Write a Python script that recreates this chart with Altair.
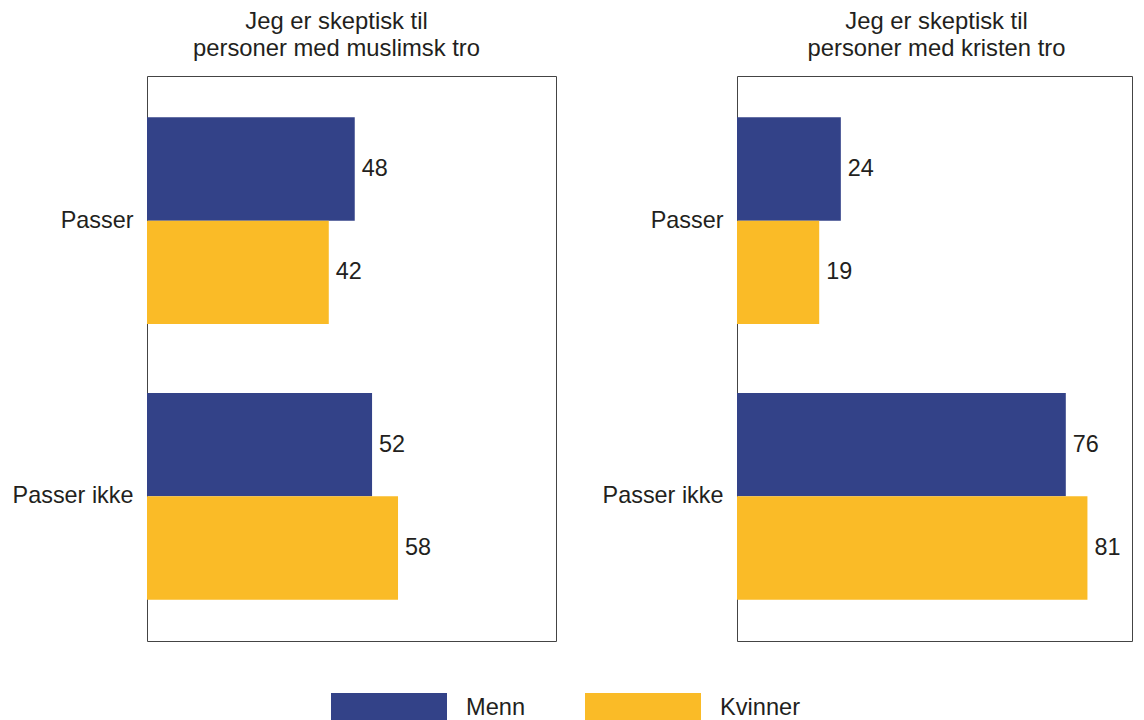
import altair as alt
import pandas as pd

categories = ["Passer", "Passer ikke"]
genders = ["Menn", "Kvinner"]
colors = ["#334288", "#FABB27"]

muslim_menn = [48, 52]
muslim_kvinner = [42, 58]
kristen_menn = [24, 76]
kristen_kvinner = [19, 81]

title_muslim = ["Jeg er skeptisk til", "personer med muslimsk tro"]
title_kristen = ["Jeg er skeptisk til", "personer med kristen tro"]

FONT = "Liberation Sans"
TXT = "#231F20"


def make_df(menn, kvinner):
    rows = []
    for i, c in enumerate(categories):
        rows.append({"kategori": c, "kjonn": "Menn", "verdi": menn[i]})
        rows.append({"kategori": c, "kjonn": "Kvinner", "verdi": kvinner[i]})
    return pd.DataFrame(rows)


def panel(df, title, dx, width, xmax):
    base = alt.Chart(df).encode(
        y=alt.Y(
            "kategori:N",
            sort=categories,
            scale=alt.Scale(paddingInner=0.25, paddingOuter=0.15),
            axis=alt.Axis(
                title=None, ticks=False, domain=False, labelFontSize=23.4,
                labelPadding=14, labelColor=TXT, labelFont=FONT,
            ),
        ),
        yOffset=alt.YOffset("kjonn:N", sort=genders,
                            scale=alt.Scale(paddingInner=0, paddingOuter=0)),
        x=alt.X("verdi:Q", scale=alt.Scale(domain=[0, xmax], nice=False), axis=None),
    )
    bars = base.mark_bar(strokeWidth=0).encode(
        color=alt.Color(
            "kjonn:N", sort=genders,
            scale=alt.Scale(domain=genders, range=colors),
            legend=alt.Legend(
                title=None, orient="none", direction="horizontal",
                legendX=227, legendY=617,
                symbolType="M-3.8667,-1H3.8667V1H-3.8667Z", symbolSize=900,
                symbolStrokeWidth=0, symbolOpacity=1,
                labelFontSize=23.6, labelFont=FONT, labelColor=TXT,
                labelOffset=62, columnPadding=58,
            ),
        ),
    )
    text = base.mark_text(align="left", baseline="middle", dx=7, fontSize=23.4,
                          font=FONT, color=TXT).encode(text="verdi:Q")
    return (bars + text).properties(
        width=width, height=565,
        title=alt.TitleParams(title, fontSize=23.8, font=FONT, color=TXT,
                              fontWeight="normal", anchor="middle", dx=dx,
                              offset=15, lineHeight=27),
    )


left = panel(make_df(muslim_menn, muslim_kvinner), title_muslim, -15, 409, 94.5)
right = panel(make_df(kristen_menn, kristen_kvinner), title_kristen, 2, 395, 91.3)

chart = alt.hconcat(left, right, spacing=44).properties(
    padding={"left": 3, "top": 1, "right": 0, "bottom": 0},
    background="white",
).configure_view(stroke="#444444", strokeWidth=1)

chart.save("out.html", embed_options={"renderer": "svg", "actions": False})
